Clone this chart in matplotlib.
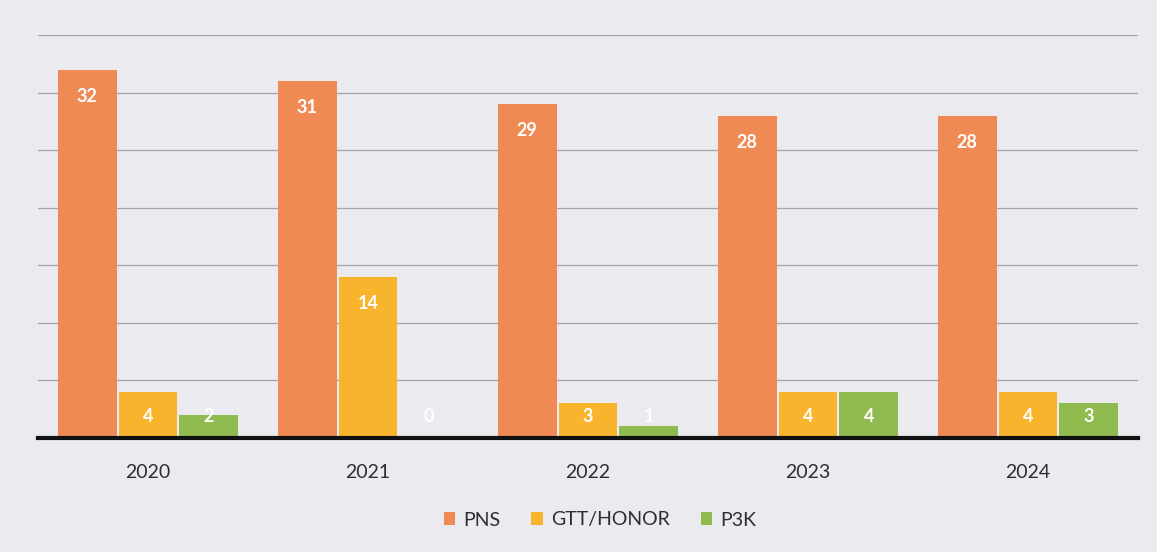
import numpy as np
import matplotlib.pyplot as plt

years = ["2020", "2021", "2022", "2023", "2024"]
series = ["PNS", "GTT/HONOR", "P3K"]
pns = [32, 31, 29, 28, 28]
gtt = [4, 14, 3, 4, 4]
p3k = [2, 0, 1, 4, 3]
colors = ["#f08a55", "#f9b42e", "#8fbb4f"]

plt.rcParams['font.family'] = ['Lato', 'DejaVu Sans']

fig = plt.figure(figsize=(11.57, 5.52), dpi=100, facecolor="#ebeaef")
ax = fig.add_axes([38 / 1157, 1 - 438 / 552, 1100 / 1157, 403 / 552])
ax.set_facecolor("#ebeaef")

x = np.arange(len(years))
width = 0.268
for i, (name, vals, c) in enumerate(zip(series, [pns, gtt, p3k], colors)):
    pos = x + (i - 1) * (width + 0.009)
    ax.bar(pos, vals, width=width, color=c, label=name, zorder=3)
    for px, v in zip(pos, vals):
        ax.text(px, max(v - 2.3, 1.9), str(v), ha="center", va="center",
                color="white", fontsize=13, fontweight="bold", zorder=4)

ax.set_xlim(-0.5, 4.5)
ax.set_ylim(0, 35)
ax.set_yticks(np.arange(0, 36, 5))
ax.yaxis.grid(True, color="#a4a4a8", linewidth=0.9, zorder=0)
ax.tick_params(axis="y", left=False, labelleft=False)
ax.tick_params(axis="x", bottom=False, pad=15, labelsize=14, labelcolor="#2e2e30")
ax.set_xticks(x)
ax.set_xticklabels(years)
for s in ["top", "left", "right"]:
    ax.spines[s].set_visible(False)
ax.spines["bottom"].set_color("#111111")
ax.spines["bottom"].set_linewidth(3)
ax.spines["bottom"].set_zorder(5)

fig.legend(loc="center", bbox_to_anchor=(600 / 1157, 1 - 520 / 552), ncol=3,
           frameon=False, fontsize=14, handlelength=0.6, handleheight=0.6,
           handletextpad=0.4, columnspacing=1.6, labelcolor="#2e2e30")

fig.savefig("out.png", dpi=100, facecolor=fig.get_facecolor())
